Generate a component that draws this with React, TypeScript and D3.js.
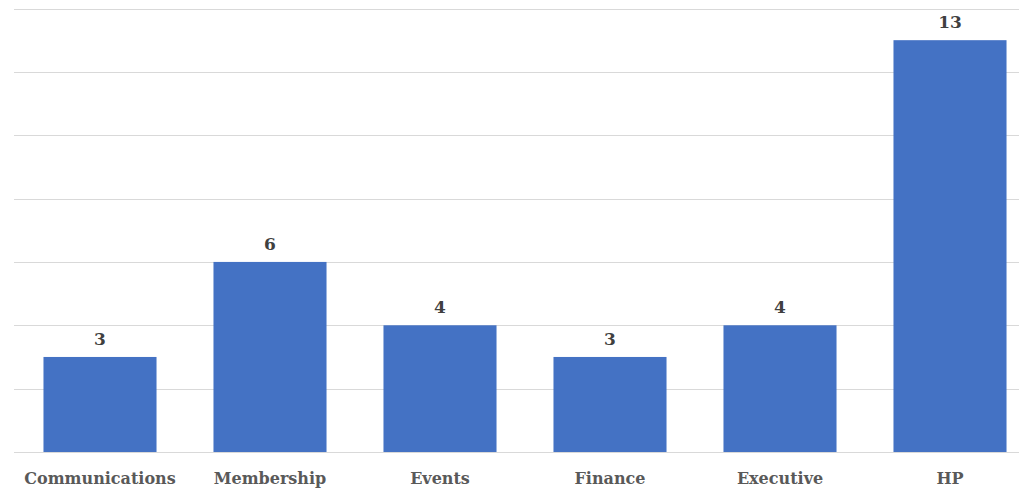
import * as d3 from 'd3'
import React, { useEffect } from 'react'

const categories = ['Communications', 'Membership', 'Events', 'Finance', 'Executive', 'HP']
const counts = [3, 6, 4, 3, 4, 13]
const gridTicks = [0, 2, 4, 6, 8, 10, 12, 14]

const width = 1019
const height = 488
const top = 8.5
const bottom = 452

export default function App() {
  useEffect(() => {
    document.body.style.margin = '0'
  }, [])

  const x = d3.scaleBand<string>().domain(categories).range([15, 1035]).paddingInner(0.335).paddingOuter(0.1675)
  const y = d3.scaleLinear().domain([0, 14]).range([bottom, top])
  const font = '"DejaVu Serif", serif'

  return (
    <svg width={width} height={height} style={{ display: 'block', background: '#fff' }}>
      {gridTicks.map((t) => (
        <line key={t} x1={14} x2={width} y1={Math.round(y(t)) + 0.5} y2={Math.round(y(t)) + 0.5} stroke="#d9d9d9" strokeWidth={1} />
      ))}
      {categories.map((c, i) => (
        <g key={c}>
          <rect x={x(c)} y={y(counts[i])} width={x.bandwidth()} height={bottom - y(counts[i])} fill="#4472c4" />
          <text
            x={(x(c) ?? 0) + x.bandwidth() / 2}
            y={y(counts[i]) - 12}
            textAnchor="middle"
            fontFamily={font}
            fontWeight="bold"
            fontSize={17}
            fill="#404040"
          >
            {counts[i]}
          </text>
          <text
            x={(x(c) ?? 0) + x.bandwidth() / 2}
            y={484}
            textAnchor="middle"
            fontFamily={font}
            fontWeight="bold"
            fontSize={16}
            fill="#595959"
          >
            {c}
          </text>
        </g>
      ))}
    </svg>
  )
}
